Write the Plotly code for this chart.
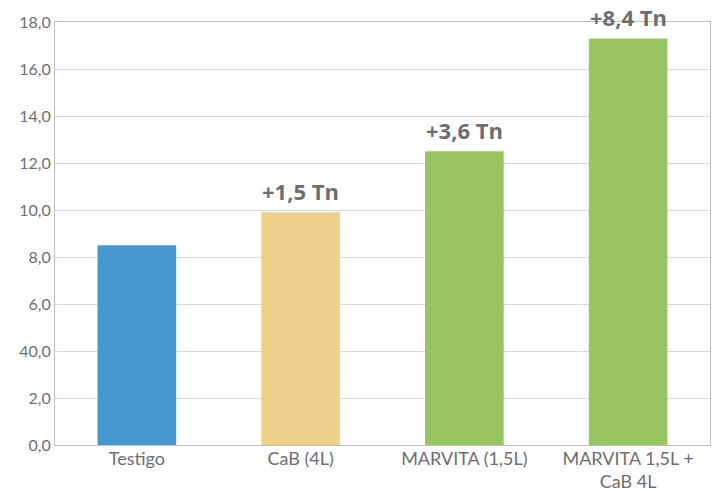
import plotly.graph_objects as go

categories = ["Testigo", "CaB (4L)", "MARVITA (1,5L)", "MARVITA 1,5L +<br>CaB 4L"]
values = [8.5, 9.9, 12.5, 17.3]
bar_labels = ["", "+1,5 Tn", "+3,6 Tn", "+8,4 Tn"]
colors = ["#4697CF", "#EDD18A", "#99C563", "#99C563"]
tick_vals = [0, 2, 4, 6, 8, 10, 12, 14, 16, 18]
tick_text = ["0,0", "2,0", "40,0", "6,0", "8,0", "10,0", "12,0", "14,0", "16,0", "18,0"]

gray = "#6D6E71"
fig = go.Figure()
fig.add_trace(go.Bar(x=categories, y=values, marker=dict(color=colors, line=dict(width=0)),
                     hoverinfo="skip"))

for c, v, t in zip(categories, values, bar_labels):
    if t:
        fig.add_annotation(x=c, y=v, text="<b>" + t + "</b>", showarrow=False,
                           yanchor="bottom", yshift=4,
                           font=dict(size=22, color=gray, family="Open Sans"))

fig.update_layout(
    width=719, height=491,
    margin=dict(l=55, r=9, t=22, b=46),
    paper_bgcolor="white", plot_bgcolor="white",
    bargap=0.52, showlegend=False,
    font=dict(family="Lato", color=gray),
)
fig.update_xaxes(showline=True, linecolor="#BFBFBF", linewidth=1, mirror=True,
                 tickfont=dict(size=18, color=gray), ticks="", showgrid=False,
                 ticklabelstandoff=-3, automargin=False)
fig.update_yaxes(range=[0, 18], tickvals=tick_vals, ticktext=tick_text,
                 showgrid=True, gridcolor="#D9D9D9", gridwidth=1,
                 showline=True, linecolor="#BFBFBF", linewidth=1, mirror=True,
                 tickfont=dict(size=16, color=gray), ticks="", zeroline=False,
                 automargin=False)

# remove the page's default body margin so the figure fills the window exactly
fig.write_html("out.html",
               config={"displayModeBar": False, "staticPlot": True},
               post_script="document.body.style.margin='0';document.body.style.overflow='hidden';")
